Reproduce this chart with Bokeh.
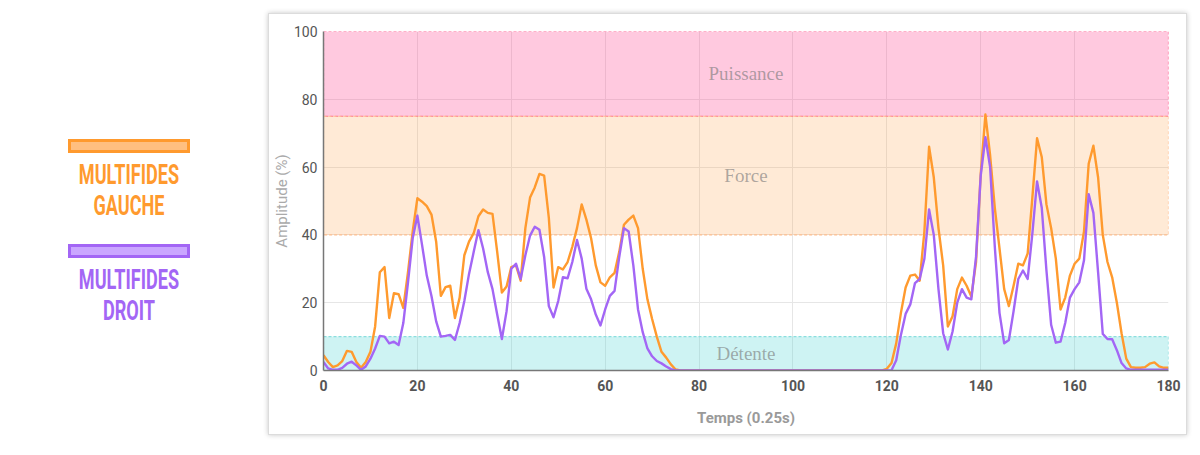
from bokeh.plotting import figure
from bokeh.models import Range1d, SingleIntervalTicker, Div, ColumnDataSource
from bokeh.layouts import row
from bokeh.core.properties import value
from bokeh.embed import file_html
from bokeh.resources import INLINE

# ---------------- data ----------------
temps = list(range(181))

gauche = [
    4.5, 2.5, 1.0, 1.5, 2.8, 5.8, 5.5, 2.5, 0.8, 2.5,
    5.5, 13, 29, 30.5, 15.5, 22.8, 22.5, 18.5, 29, 41,
    50.8, 49.8, 48.5, 46, 38, 22, 24.6, 25, 15.5, 21.5,
    34, 38, 40.5, 45.5, 47.5, 46.5, 46.2, 35, 23, 24.8,
    30.5, 31, 26.5, 42, 51, 54, 58, 57.5, 45, 24.5,
    30.5, 29.8, 32, 36.5, 42, 49, 44.5, 39, 31, 26,
    25, 27.5, 28.8, 35, 43, 44.5, 45.7, 42, 30, 21,
    15.2, 10, 5.5, 3.8, 1.8, 0.3,
    0, 0, 0, 0, 0, 0, 0, 0, 0, 0, 0, 0, 0, 0, 0, 0, 0, 0, 0, 0, 0, 0,
    0, 0, 0, 0, 0, 0, 0, 0, 0, 0, 0, 0, 0, 0, 0, 0, 0, 0, 0, 0, 0, 0,
    0.5, 2.2, 8, 17, 24.5, 28, 28.3, 26.5, 41, 66,
    57, 42, 31, 13, 16, 24, 27.4, 25, 21.8, 32,
    58, 75.5, 63.5, 48, 36, 24, 19, 25, 31.5, 31,
    34.5, 51, 68.5, 63, 49, 42, 33, 18, 21.5, 28,
    31.5, 33, 41, 61, 66.3, 57, 40, 32, 27.5, 20,
    11, 3.5, 1, 0.8, 0.8, 1, 2.0, 2.4, 1.2, 0.8, 0.8,
]

droit = [
    2.5, 0.6, 0.2, 0.2, 0.8, 2.0, 2.6, 1.5, 0.2, 1.2,
    3.5, 6.5, 10.2, 10, 8, 8.5, 7.5, 14, 26, 39,
    45.7, 37, 28, 22, 14.5, 10, 10.2, 10.5, 9, 14,
    20.5, 28.5, 35, 41.4, 36, 29, 24, 16.5, 9.3, 17.5,
    30, 31.5, 27, 34, 39.8, 42.4, 41.5, 33.5, 19, 15.7,
    20.5, 27.5, 27.2, 32, 38.5, 33, 24.1, 21, 16.5, 13.3,
    18, 22, 23.5, 33.5, 42, 41, 31, 18, 11.3, 6.5,
    4.2, 2.8, 2.1, 1.2, 0.4, 0,
    0, 0, 0, 0, 0, 0, 0, 0, 0, 0, 0, 0, 0, 0, 0, 0, 0, 0, 0, 0, 0, 0, 0,
    0, 0, 0, 0, 0, 0, 0, 0, 0, 0, 0, 0, 0, 0, 0, 0, 0, 0, 0, 0, 0, 0,
    0.1, 3, 10.5, 16.7, 19.5, 25.8, 27, 33, 47.5, 40,
    24, 11, 6.2, 11.5, 20, 24, 21.5, 21, 33.5, 57.5,
    68.8, 60, 36.5, 17, 8, 9, 17.5, 27, 29.5, 27,
    40.4, 55.8, 48, 29.5, 13.5, 8.2, 8.5, 14, 21.5, 24,
    26, 32.5, 52, 46.5, 29, 10.8, 9.3, 9.2, 6, 2.2,
    0.6, 0.2, 0.2, 0.2, 0.2, 0.2, 0.2, 0.2, 0.2, 0.2,
]

series_names = ["MULTIFIDES GAUCHE", "MULTIFIDES DROIT"]

zone_names = ["Puissance", "Force", "Détente"]
zone_low = [75, 40, 0]
zone_high = [100, 75, 10]

x_label = "Temps (0.25s)"
y_label = "Amplitude (%)"

# ---------------- styles ----------------
line_colors = ["#ff9a2e", "#a366f5"]
box_fills = ["#ffbf80", "#caa6ff"]
zone_fill = ["#ff4d94", "#ff9f45", "#5cd6d6"]
zone_alpha = [0.30, 0.22, 0.30]
zone_line = ["#ff6f9a", "#ffbf8f", "#8adede"]

# ---------------- figure ----------------
p = figure(frame_width=843, frame_height=337, output_backend="svg", toolbar_location=None,
           x_range=Range1d(0, 180), y_range=Range1d(0, 100),
           min_border_left=53, min_border_right=20, min_border_top=17,
           min_border_bottom=66, background_fill_color="white",
           border_fill_color="white", outline_line_color=None)
p.styles = {"border": "1px solid #dcdcdc", "box-shadow": "0 0 5px rgba(0,0,0,0.22)"}
p.align = "end"

zsrc = ColumnDataSource(dict(
    name=zone_names, low=zone_low, high=zone_high,
    mid=[(a + b) / 2 for a, b in zip(zone_low, zone_high)],
    fill=zone_fill, alpha=zone_alpha, line=zone_line,
    xl=[temps[0]] * 3, xr=[temps[-1]] * 3, xm=[(temps[0] + temps[-1]) / 2] * 3,
))
p.quad(left="xl", right="xr", bottom="low", top="high", source=zsrc,
       fill_color="fill", fill_alpha="alpha", line_color="line",
       line_dash="3 2", line_width=1.2)
p.text(x="xm", y="mid", text="name", source=zsrc, text_align="center",
       text_baseline="middle", text_font=value("Liberation Serif"),
       text_font_size="19px", text_color="#777777", text_alpha=0.6)

p.line(temps, gauche, line_color=line_colors[0], line_width=2.4, line_join="round")
p.line(temps, droit, line_color=line_colors[1], line_width=2.4, line_join="round")

for ax in (p.xaxis[0], p.yaxis[0]):
    ax.ticker = SingleIntervalTicker(interval=20)
    ax.major_tick_line_color = None
    ax.minor_tick_line_color = None
    ax.axis_line_color = "#777777"
    ax.axis_line_width = 1.5
    ax.major_label_text_color = "#555555"
    ax.major_label_text_font = "Roboto"
    ax.major_label_text_font_size = "14px"

p.xaxis.major_label_text_font_style = "bold"
p.xaxis.major_label_standoff = 3
p.xaxis.axis_label = x_label
p.xaxis.axis_label_text_font = "Roboto"
p.xaxis.axis_label_text_font_style = "bold"
p.xaxis.axis_label_text_font_size = "15px"
p.xaxis.axis_label_text_color = "#9a9a9a"
p.xaxis.axis_label_standoff = 15

p.yaxis.major_label_standoff = 0
p.yaxis.axis_label = y_label
p.yaxis.axis_label_text_font = "Roboto"
p.yaxis.axis_label_text_font_style = "normal"
p.yaxis.axis_label_text_font_size = "15px"
p.yaxis.axis_label_text_color = "#aaaaaa"
p.yaxis.axis_label_standoff = 0

for g in (p.xgrid[0], p.ygrid[0]):
    g.ticker = SingleIntervalTicker(interval=20)
    g.grid_line_color = "#e6e6e6"
    g.grid_line_width = 1

# ---------------- legend (left) ----------------
tops = [134, 239]
parts = ['<div style="position:relative;width:258px;height:425px;font-family:Roboto,sans-serif;">']
for i, name in enumerate(series_names):
    t = tops[i]
    parts.append(
        f'<div style="position:absolute;left:63px;top:{t}px;width:122px;height:14px;box-sizing:border-box;'
        f'background:{box_fills[i]};border:3px solid {line_colors[i]};"></div>')
    parts.append(
        f'<div style="position:absolute;left:23px;top:{t + 21}px;width:202px;text-align:center;'
        f'color:{line_colors[i]};font-weight:bold;font-size:27px;line-height:31px;'
        f'transform:scaleX(0.67);white-space:nowrap;">' + "<br>".join(name.split(" ")) + '</div>')
parts.append('</div>')
legend = Div(text="".join(parts), width=258, height=425)
legend.align = "start"

layout = row(legend, p)
open("out.html", "w").write(file_html(layout, INLINE))
